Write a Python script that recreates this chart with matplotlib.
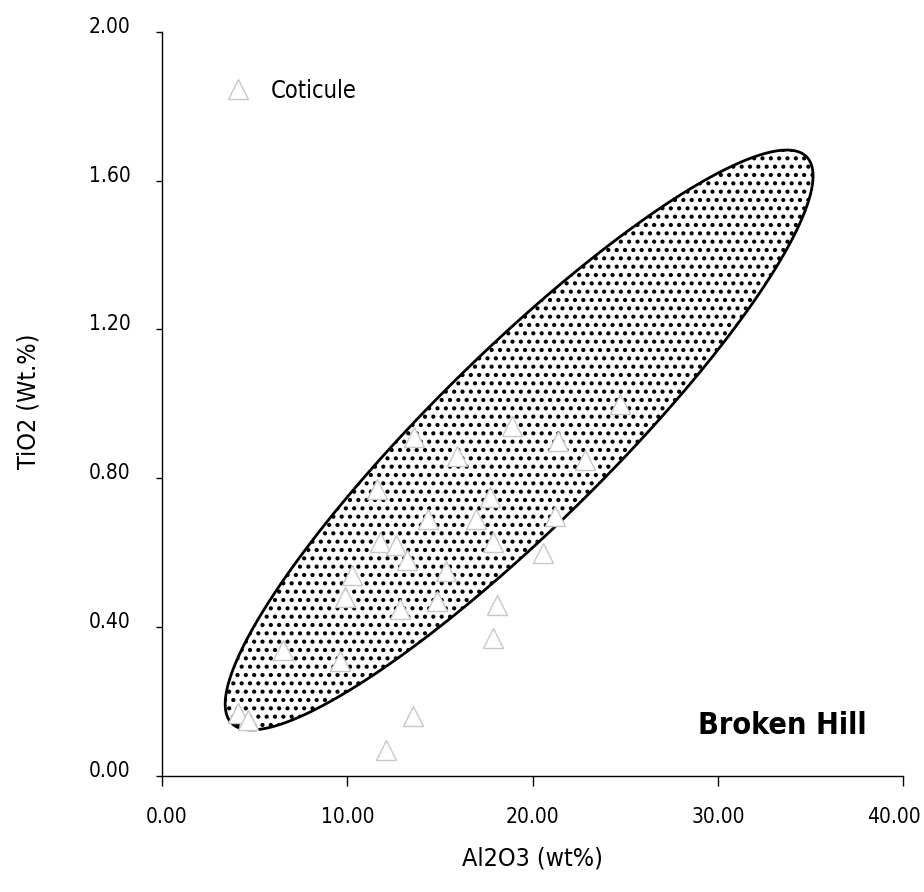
import numpy as np
import matplotlib
matplotlib.use('Agg')
import matplotlib.pyplot as plt
from matplotlib.patches import Polygon
from matplotlib.transforms import ScaledTranslation

plt.rcParams['font.family'] = ['DejaVu Sans']
plt.rcParams['font.stretch'] = 'condensed'
plt.rcParams['hatch.linewidth'] = 1.8

# Coticule samples, Broken Hill
al2o3 = [4.10, 4.64, 6.53, 9.61, 9.88, 10.26, 11.60, 11.77, 12.63, 12.84,
         13.22, 13.55, 12.09, 13.60, 14.35, 14.84, 15.33, 15.92, 16.95, 17.70,
         17.87, 17.87, 18.08, 18.89, 20.56, 21.21, 21.37, 22.83, 24.72]
tio2 = [0.17, 0.15, 0.34, 0.31, 0.48, 0.54, 0.77, 0.63, 0.62, 0.45,
        0.58, 0.16, 0.07, 0.91, 0.69, 0.47, 0.55, 0.86, 0.69, 0.75,
        0.63, 0.37, 0.46, 0.94, 0.60, 0.70, 0.90, 0.85, 1.00]

# field ellipse: centre and two conjugate semi-axes (data units)
ell_center = (19.27, 0.903)
ell_major = (15.51, 0.761)
ell_minor = (3.31, -0.167)

xticks = [0, 10, 20, 30, 40]
yticks = [0.0, 0.4, 0.8, 1.2, 1.6, 2.0]

fig = plt.figure(figsize=(9.24, 8.92), dpi=100)
ax = fig.add_axes([0.1753, 0.1300, 0.8023, 0.8344])

t = np.linspace(0, 2 * np.pi, 400)
ex = ell_center[0] + ell_major[0] * np.cos(t) + ell_minor[0] * np.sin(t)
ey = ell_center[1] + ell_major[1] * np.cos(t) + ell_minor[1] * np.sin(t)
field = Polygon(np.column_stack([ex, ey]), closed=True, facecolor='white',
                edgecolor='black', hatch='..', linewidth=2.0, zorder=1)
ax.add_patch(field)

# white-filled triangles knock out the stipple underneath
ax.plot(al2o3, tio2, linestyle='none', marker='^', markersize=15,
        markerfacecolor='white', markeredgecolor='#c8c8c8', markeredgewidth=1.0,
        label='Coticule', zorder=3)

ax.set_xlim(0, 40)
ax.set_ylim(0, 2.0)
ax.set_xticks(xticks)
ax.set_yticks(yticks)
ax.set_xticklabels([f'{v:.2f}' for v in xticks])
ax.set_yticklabels([f'{v:.2f}' for v in yticks])
ax.tick_params(axis='x', direction='out', length=7, width=1, pad=15, labelsize=15)
ax.tick_params(axis='y', direction='out', length=4.5, width=1, pad=18, labelsize=15)
for lab in ax.get_yticklabels():
    lab.set_transform(lab.get_transform() + ScaledTranslation(0, 0.07, fig.dpi_scale_trans))
xlabs = ax.get_xticklabels()
xlabs[0].set_transform(xlabs[0].get_transform() + ScaledTranslation(0.05, 0, fig.dpi_scale_trans))
xlabs[-1].set_transform(xlabs[-1].get_transform() + ScaledTranslation(-0.09, 0, fig.dpi_scale_trans))

for side in ['top', 'right']:
    ax.spines[side].set_visible(False)
for side in ['left', 'bottom']:
    ax.spines[side].set_linewidth(1.0)

ax.set_xlabel('Al2O3 (wt%)', fontsize=18)
ax.set_ylabel('TiO2 (Wt.%)', fontsize=18)
ax.xaxis.set_label_coords(0.5, -0.111)
ax.xaxis.label.set_va('center')
ax.yaxis.set_label_coords(-0.1795, 0.504)
ax.yaxis.label.set_va('center')

ax.legend(loc='center left', bbox_to_anchor=(0.085, 0.921), frameon=False,
          fontsize=17, handlelength=1.1, handletextpad=0.85, borderpad=0,
          borderaxespad=0)

ax.text(0.95, 0.068, 'Broken Hill', transform=ax.transAxes, ha='right',
        va='center', fontsize=22, fontweight='bold')

fig.savefig('out.png', dpi=100)
